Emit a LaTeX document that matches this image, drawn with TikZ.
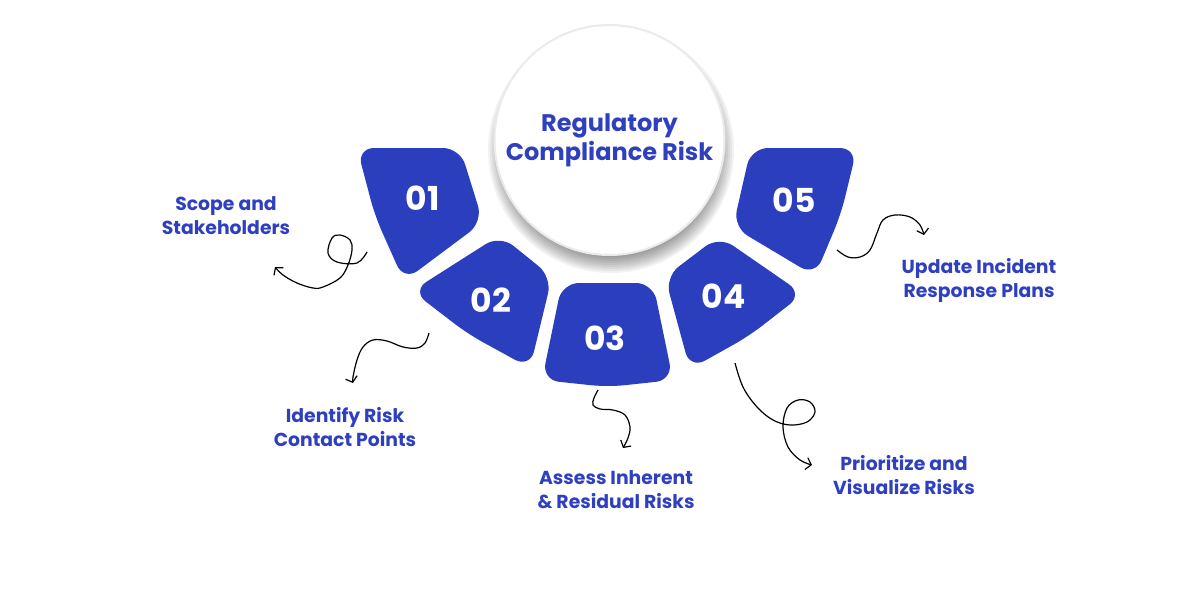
\documentclass[tikz,border=0pt]{standalone}
\usepackage{fontspec}
\setmainfont{Poppins}
\usetikzlibrary{arrows.meta}
\definecolor{brand}{HTML}{2B3EBE}
\definecolor{ink}{HTML}{2E40BF}
\newcommand{\twolines}[1]{\begin{tabular}[t]{@{}c@{}}#1\end{tabular}}
\begin{document}
\begin{tikzpicture}[x=1pt,y=-1pt,
  seg/.style={fill=brand, rounded corners=17pt},
  num/.style={text=white, font=\fontsize{33}{36}\selectfont\bfseries, anchor=base, inner sep=0pt},
  lab/.style={text=ink, font=\fontsize{18.8}{24}\selectfont\bfseries, anchor=base, inner sep=0pt},
  ttl/.style={text=ink, font=\fontsize{24}{29}\selectfont\bfseries, anchor=base, inner sep=0pt},
  conn/.style={draw=black, line width=1.2pt, -{Straight Barb[length=5pt,width=12pt]}}]
\fill[white] (0,0) rectangle (1200,600);
\useasboundingbox (0,0) rectangle (1200,600);

% central circle with soft shadow
\foreach \k in {0,...,8} {\fill[black,opacity=0.05] (611,150) circle ({(107+2*\k)*1pt});}
\fill[white] (609.5,140) circle (115pt);
\draw[black!8, line width=2pt] (609.5,140) circle (115pt);
\node[ttl] (title) at (609.5,131) {\twolines{Regulatory\\Compliance Risk}};

% segments
\fill[seg] (357,148) -- (460,148) -- (483,222) -- (404,281) -- (375,216) -- cycle;
\fill[seg] (412,291) -- (500,235) -- (552,277) -- (530,368) -- (468,334) -- cycle;
\fill[seg] (562,283) -- (653,283) -- (673,380) -- (608,387) -- (542,380) -- cycle;
\fill[seg] (665,277) -- (719,236) -- (803,294) -- (749,336) -- (690,369) -- cycle;
\fill[seg] (751,148) -- (857,148) -- (841,214) -- (815,276) -- (733,227) -- cycle;

\node[num] (n1) at (422.5,210) {01};
\node[num] (n2) at (491,312) {02};
\node[num] (n3) at (605,350) {03};
\node[num] (n4) at (723.5,308) {04};
\node[num] (n5) at (794,212) {05};

% labels
\node[lab] (l1) at (226,210) {\twolines{Scope and\\Stakeholders}};
\node[lab] (l2) at (345,422) {\twolines{Identify Risk\\Contact Points}};
\node[lab] (l3) at (616,484) {\twolines{Assess Inherent\\\& Residual Risks}};
\node[lab] (l4) at (904,470) {\twolines{Prioritize and\\Visualize Risks}};
\node[lab] (l5) at (979,273) {\twolines{Update Incident\\Response Plans}};

% connector end points
\coordinate (s1) at (367,252); \coordinate (e1) at (275,267);
\coordinate (s2) at (429,333); \coordinate (e2) at (353,383);
\coordinate (s3) at (598,390); \coordinate (e3) at (623,448);
\coordinate (s4) at (735,363); \coordinate (e4) at (812,465);
\coordinate (s5) at (837,250); \coordinate (e5) at (924,235);

\draw[conn] plot[smooth, tension=0.6] coordinates {(s1) (357,263) (337,262) (328,253) (332,238) (340,235) (350,240) (352,250) (348,265) (340,278) (323,287) (313,288) (297,283) (283,275) (e1)};
\draw[conn] plot[smooth, tension=0.6] coordinates {(s2) (425,343) (417,348) (403,347) (387,341) (373,340) (363,347) (357,360) (353,377) (e2)};
\draw[conn] plot[smooth, tension=0.6] coordinates {(s3) (594,398) (593,405) (600,409) (613,410) (625,415) (630,427) (628,438) (e3)};
\draw[conn] plot[smooth, tension=0.6] coordinates {(s4) (743,387) (757,407) (773,420) (790,425) (807,422) (815,412) (810,402) (798,400) (787,408) (783,427) (788,447) (800,460) (e4)};
\draw[conn] plot[smooth, tension=0.6] coordinates {(s5) (848,257) (860,257) (870,250) (877,233) (883,220) (895,215) (910,217) (920,225) (e5)};
\end{tikzpicture}
\end{document}
